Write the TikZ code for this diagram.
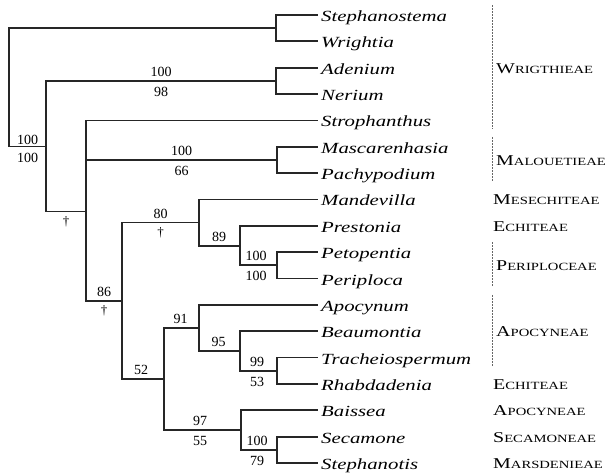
\documentclass[tikz,border=0pt]{standalone}
\usepackage{fontspec}
\setmainfont{Liberation Serif}
\newfontfamily\leaffont[FakeStretch=1.34]{Liberation Serif Italic}
\newfontfamily\tribefont[FakeStretch=1.33]{Liberation Serif}
\newcommand\trb[2]{{\tribefont\fontsize{15}{15}\selectfont #1\fontsize{11}{11}\selectfont #2}}
\begin{document}
\begin{tikzpicture}[x=1pt,y=-1pt,
  br/.style={line width=1.8pt, black!85, line cap=rect, line join=miter},
  leaf/.style={anchor=base west, inner sep=0pt, font=\leaffont\fontsize{15.5}{16}\selectfont},
  num/.style={anchor=base, inner sep=0pt, font=\fontsize{14}{14}\selectfont},
  dag/.style={anchor=north, inner sep=0pt, font=\fontsize{13}{13}\selectfont},
  tribe/.style={anchor=base west, inner sep=0pt},
  brack/.style={line width=0.6pt, black!60, dash pattern=on 2pt off 1pt}]
\useasboundingbox (0,0) rectangle (609,474);
% leaves
\foreach \i/\name in {0/Stephanostema,1/Wrightia,2/Adenium,3/Nerium,4/Strophanthus,5/Mascarenhasia,6/Pachypodium,7/Mandevilla,8/Prestonia,9/Petopentia,10/Periploca,11/Apocynum,12/Beaumontia,13/Tracheiospermum,14/Rhabdadenia,15/Baissea,16/Secamone,17/Stephanotis}{
  \pgfmathsetmacro\yy{15+26.35*\i}
  \coordinate (l\i) at (317,\yy);
  \node[leaf] (t\i) at (321,\yy+6.5) {\name};
}
% internal nodes
\coordinate (nA) at (276,28.2);
\coordinate (nB) at (276,80.9);
\coordinate (nC) at (277,159.9);
\coordinate (nP) at (277,265.3);
\coordinate (n89) at (240,245.6);
\coordinate (n80) at (199,222.5);
\coordinate (nT) at (277,370.7);
\coordinate (n95) at (240,351);
\coordinate (n91) at (199,327.9);
\coordinate (nS) at (277,449.8);
\coordinate (n97) at (241,430);
\coordinate (n52) at (164,379);
\coordinate (n86) at (122,300.7);
\coordinate (nM) at (86,211.5);
\coordinate (nR) at (46,146.5);
\coordinate (root) at (9,87);
% branches
\draw[br] (root) |- (nA); \draw[br] (root) |- (nR);
\draw[br] (nA) |- (l0); \draw[br] (nA) |- (l1);
\draw[br] (nR) |- (nB); \draw[br] (nR) |- (nM);
\draw[br] (nB) |- (l2); \draw[br] (nB) |- (l3);
\draw[br] (nM) |- (l4); \draw[br] (nM) |- (nC); \draw[br] (nM) |- (n86);
\draw[br] (nC) |- (l5); \draw[br] (nC) |- (l6);
\draw[br] (n86) |- (n80); \draw[br] (n86) |- (n52);
\draw[br] (n80) |- (l7); \draw[br] (n80) |- (n89);
\draw[br] (n89) |- (l8); \draw[br] (n89) |- (nP);
\draw[br] (nP) |- (l9); \draw[br] (nP) |- (l10);
\draw[br] (n52) |- (n91); \draw[br] (n52) |- (n97);
\draw[br] (n91) |- (l11); \draw[br] (n91) |- (n95);
\draw[br] (n95) |- (l12); \draw[br] (n95) |- (nT);
\draw[br] (nT) |- (l13); \draw[br] (nT) |- (l14);
\draw[br] (n97) |- (l15); \draw[br] (n97) |- (nS);
\draw[br] (nS) |- (l16); \draw[br] (nS) |- (l17);
% support values
\node[num] (sR1) at (27.5,146.5-2.5) {100};
\node[num] (sR2) at (27.5,146.5+15.5) {100};
\node[num] (sB1) at (161,80.9-4.5) {100};
\node[num] (sB2) at (161,80.9+15.5) {98};
\node[num] (sC1) at (181.5,159.9-4.5) {100};
\node[num] (sC2) at (181.5,159.9+15.5) {66};
\node[dag] (dM) at (66,211.5+5) {\textdagger};
\node[num] (s80) at (160.5,222.5-4.5) {80};
\node[dag] (d80) at (160.5,222.5+5) {\textdagger};
\node[num] (s89) at (219,245.6-4.5) {89};
\node[num] (sP1) at (256,265.3-4.5) {100};
\node[num] (sP2) at (256,265.3+15.5) {100};
\node[num] (s86) at (104,300.7-4.5) {86};
\node[dag] (d86) at (104,300.7+5) {\textdagger};
\node[num] (s52) at (141,379-4.5) {52};
\node[num] (s91) at (180.5,327.9-4.5) {91};
\node[num] (s95) at (218.5,351-4.5) {95};
\node[num] (sT1) at (257,370.7-4.5) {99};
\node[num] (sT2) at (257,370.7+15.5) {53};
\node[num] (s97a) at (200,430-4.5) {97};
\node[num] (s97b) at (200,430+15.5) {55};
\node[num] (sS1) at (257,449.8-4.5) {100};
\node[num] (sS2) at (257,449.8+15.5) {79};
% tribes
\draw[brack] (492,5) coordinate (bA1) -- (492,128.4) coordinate (bA2);
\draw[brack] (492,136.75) coordinate (bB1) -- (492,181.1) coordinate (bB2);
\draw[brack] (492,242.15) coordinate (bC1) -- (492,286.5) coordinate (bC2);
\draw[brack] (492,294.85) coordinate (bD1) -- (492,365.55) coordinate (bD2);
\node[tribe] (r1) at (496,67.7+5.5) {\trb{W}{RIGTHIEAE}};
\node[tribe] (r2) at (496,159.9+5.5) {\trb{M}{ALOUETIEAE}};
\node[tribe] (r3) at (493,199.45+5.5) {\trb{M}{ESECHITEAE}};
\node[tribe] (r4) at (493,225.8+5.5) {\trb{E}{CHITEAE}};
\node[tribe] (r5) at (496,265.3+5.5) {\trb{P}{ERIPLOCEAE}};
\node[tribe] (r6) at (496,331.2+5.5) {\trb{A}{POCYNEAE}};
\node[tribe] (r7) at (493,383.9+5.5) {\trb{E}{CHITEAE}};
\node[tribe] (r8) at (493,410.25+5.5) {\trb{A}{POCYNEAE}};
\node[tribe] (r9) at (493,436.6+5.5) {\trb{S}{ECAMONEAE}};
\node[tribe] (r10) at (493,462.95+5.5) {\trb{M}{ARSDENIEAE}};
\end{tikzpicture}
\end{document}
